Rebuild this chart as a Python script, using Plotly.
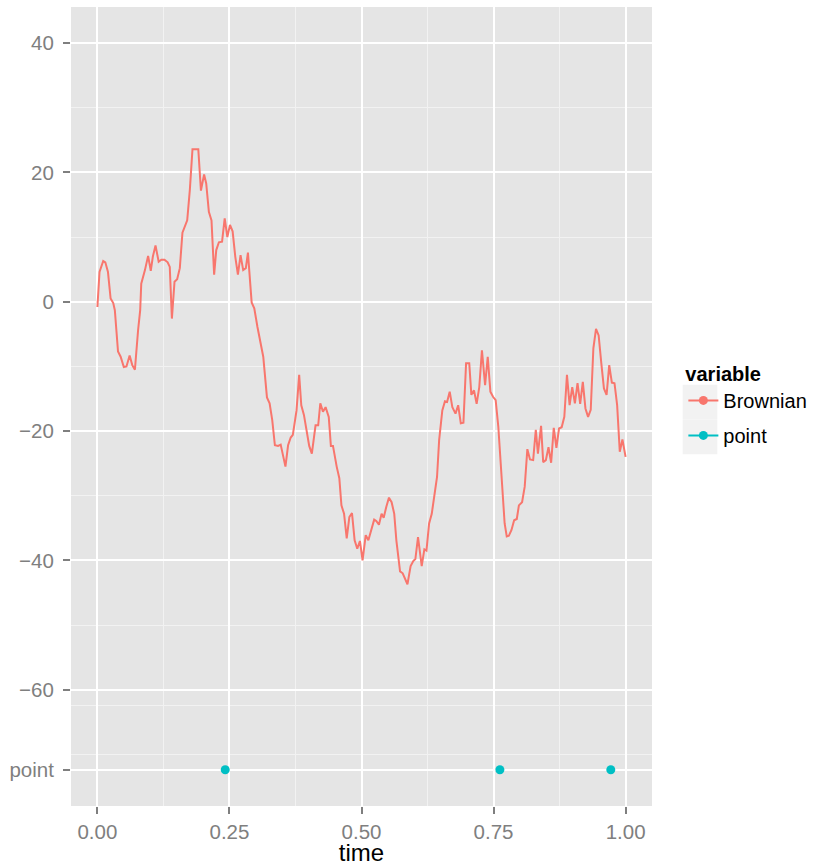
import plotly.graph_objects as go

# Brownian path (time, value)
time = [0.000, 0.004, 0.011, 0.015, 0.020, 0.025, 0.030, 0.033, 0.039, 0.044,
        0.050, 0.055, 0.061, 0.066, 0.071, 0.075, 0.077, 0.081, 0.083, 0.090,
        0.096, 0.101, 0.105, 0.110, 0.116, 0.121, 0.127, 0.133, 0.137, 0.141,
        0.146, 0.151, 0.156, 0.161, 0.170, 0.175, 0.180, 0.191, 0.196, 0.202,
        0.206, 0.211, 0.216, 0.221, 0.225, 0.230, 0.236, 0.241, 0.246, 0.251,
        0.256, 0.261, 0.266, 0.271, 0.276, 0.281, 0.285, 0.292, 0.297, 0.303,
        0.307, 0.314, 0.321, 0.326, 0.331, 0.336, 0.342, 0.347, 0.356, 0.361,
        0.366, 0.370, 0.377, 0.382, 0.386, 0.391, 0.401, 0.406, 0.413, 0.418,
        0.422, 0.427, 0.432, 0.438, 0.442, 0.446, 0.453, 0.458, 0.462, 0.467,
        0.472, 0.477, 0.482, 0.487, 0.492, 0.497, 0.502, 0.508, 0.513, 0.519,
        0.524, 0.528, 0.533, 0.538, 0.542, 0.547, 0.552, 0.557, 0.562, 0.566,
        0.573, 0.578, 0.583, 0.587, 0.593, 0.598, 0.602, 0.607, 0.614, 0.619,
        0.623, 0.628, 0.633, 0.639, 0.643, 0.647, 0.653, 0.658, 0.662, 0.667,
        0.672, 0.678, 0.683, 0.688, 0.693, 0.698, 0.704, 0.708, 0.713, 0.718,
        0.723, 0.728, 0.734, 0.739, 0.744, 0.749, 0.754, 0.759, 0.765, 0.771,
        0.775, 0.779, 0.784, 0.789, 0.794, 0.798, 0.804, 0.809, 0.814, 0.819,
        0.825, 0.830, 0.834, 0.840, 0.844, 0.849, 0.854, 0.859, 0.864, 0.869,
        0.874, 0.879, 0.884, 0.889, 0.894, 0.899, 0.904, 0.909, 0.914, 0.919,
        0.924, 0.929, 0.934, 0.939, 0.944, 0.949, 0.954, 0.959, 0.964, 0.969,
        0.974, 0.979, 0.984, 0.989, 0.994, 1.000]
brownian = [-0.8, 4.6, 6.3, 6.1, 4.6, 0.5, -0.2, -1.3, -7.7, -8.5,
            -10.1, -10.0, -8.3, -9.8, -10.5, -5.4, -4.4, -1.3, 2.8, 4.9,
            7.1, 4.8, 7.0, 8.7, 6.2, 6.5, 6.5, 6.1, 5.4, -2.6,
            3.1, 3.5, 5.2, 10.7, 12.6, 17.3, 23.6, 23.6, 17.2, 19.7,
            18.3, 13.9, 12.6, 4.2, 8.0, 9.2, 9.3, 12.9, 10.0, 11.9,
            10.9, 7.0, 4.2, 7.2, 4.9, 5.2, 7.6, -0.1, -1.0, -3.9,
            -5.4, -8.5, -14.8, -15.7, -18.3, -22.2, -22.3, -22.1, -25.5, -22.2,
            -21.0, -20.6, -16.8, -11.3, -16.0, -17.5, -22.3, -23.5, -19.1, -19.1,
            -15.7, -17.0, -16.3, -17.8, -22.3, -22.3, -25.5, -27.3, -31.5, -32.8,
            -36.6, -33.3, -32.7, -36.9, -38.2, -37.0, -40.0, -36.1, -36.9, -35.1,
            -33.7, -33.9, -34.5, -32.8, -33.4, -31.7, -30.3, -31.0, -32.8, -36.9,
            -41.7, -42.0, -43.1, -43.7, -40.9, -40.1, -39.8, -36.4, -40.9, -38.3,
            -38.5, -34.3, -32.8, -29.1, -27.1, -21.4, -16.8, -15.4, -15.5, -13.9,
            -16.3, -17.3, -16.0, -18.8, -18.7, -9.5, -9.5, -14.4, -13.7, -15.8,
            -13.2, -7.5, -12.9, -8.5, -13.9, -14.7, -15.2, -19.3, -27.6, -34.3,
            -36.3, -36.2, -35.3, -33.8, -33.6, -31.5, -31.0, -28.6, -22.8, -24.4,
            -24.5, -19.8, -23.5, -19.2, -24.8, -24.5, -22.5, -24.9, -19.5, -22.6,
            -19.6, -19.4, -17.8, -11.3, -16.0, -13.2, -15.7, -12.6, -15.8, -12.4,
            -16.5, -17.8, -16.7, -7.2, -4.2, -5.2, -9.5, -13.4, -14.4, -9.8,
            -12.5, -12.6, -16.0, -23.2, -21.3, -24.0]

point_time = [0.242, 0.762, 0.972]
point_level = -72.4  # position of the "point" row on the y axis

y_tick_vals = [point_level, -60, -40, -20, 0, 20, 40]
y_tick_text = ["point", "\u221260", "\u221240", "\u221220", "0", "20", "40"]
y_minor_vals = [-70.06, -62.5, -50, -30, -10, 10, 30]
x_tick_vals = [0, 0.25, 0.5, 0.75, 1.0]
x_tick_text = ["0.00", "0.25", "0.50", "0.75", "1.00"]
x_minor_vals = [0.125, 0.375, 0.625, 0.875]

RED = "#F8766D"
CYAN = "#00BFC4"
FONT = "Liberation Sans, Arial, sans-serif"

fig = go.Figure()
fig.add_trace(go.Scatter(x=time, y=brownian, mode="lines",
                         line=dict(color=RED, width=2), showlegend=False))
fig.add_trace(go.Scatter(x=point_time, y=[point_level] * len(point_time),
                         mode="markers", marker=dict(color=CYAN, size=9),
                         showlegend=False))
# legend keys (line + dot, as in the reference)
fig.add_trace(go.Scatter(x=[None], y=[None], mode="lines+markers", name="Brownian",
                         legendgroup="a",
                         line=dict(color=RED, width=2), marker=dict(color=RED, size=9)))
fig.add_trace(go.Scatter(x=[None], y=[None], mode="lines+markers", name="point",
                         legendgroup="b",
                         line=dict(color=CYAN, width=2), marker=dict(color=CYAN, size=9)))

axis_common = dict(
    showgrid=True, gridcolor="white", gridwidth=2, zeroline=False, showline=False,
    ticks="outside", ticklen=7, tickwidth=2, tickcolor="#7F7F7F",
    tickfont=dict(family=FONT, size=20.5, color="#7F7F7F"), automargin=False,
)

fig.update_layout(
    width=813, height=866, template="none",
    margin=dict(l=71, r=161, t=7, b=60, autoexpand=False),
    paper_bgcolor="white", plot_bgcolor="#E5E5E5",
    font=dict(family=FONT, size=20, color="black"),
    xaxis=dict(range=[-0.05, 1.05], tickvals=x_tick_vals, ticktext=x_tick_text,
               minor=dict(tickvals=x_minor_vals, showgrid=True, gridcolor="#F2F2F2", gridwidth=1),
               title=dict(text="time", font=dict(family=FONT, size=24, color="black"), standoff=4),
               **axis_common),
    yaxis=dict(range=[-78, 45.6], tickvals=y_tick_vals, ticktext=y_tick_text,
               ticklabelstandoff=5,
               minor=dict(tickvals=y_minor_vals, showgrid=True, gridcolor="#F2F2F2", gridwidth=1),
               **axis_common),
    legend=dict(x=1.054, y=0.502, xanchor="left", yanchor="middle", tracegroupgap=6,
                bgcolor="rgba(0,0,0,0)", font=dict(family=FONT, size=20, color="black"),
                title=dict(text="<b>variable</b>", font=dict(family=FONT, size=20, color="black"))),
    shapes=[
        dict(type="rect", xref="paper", yref="paper", x0=1.0528, x1=1.1124, y0=0.4834, y1=0.5272,
             fillcolor="#F2F2F2", line=dict(width=0), layer="below"),
        dict(type="rect", xref="paper", yref="paper", x0=1.0528, x1=1.1124, y0=0.4402, y1=0.4831,
             fillcolor="#F2F2F2", line=dict(width=0), layer="below"),
    ],
)

fig.write_html("out.html", config={"displayModeBar": False},
               post_script="document.body.style.margin='0';document.body.style.padding='0';")
